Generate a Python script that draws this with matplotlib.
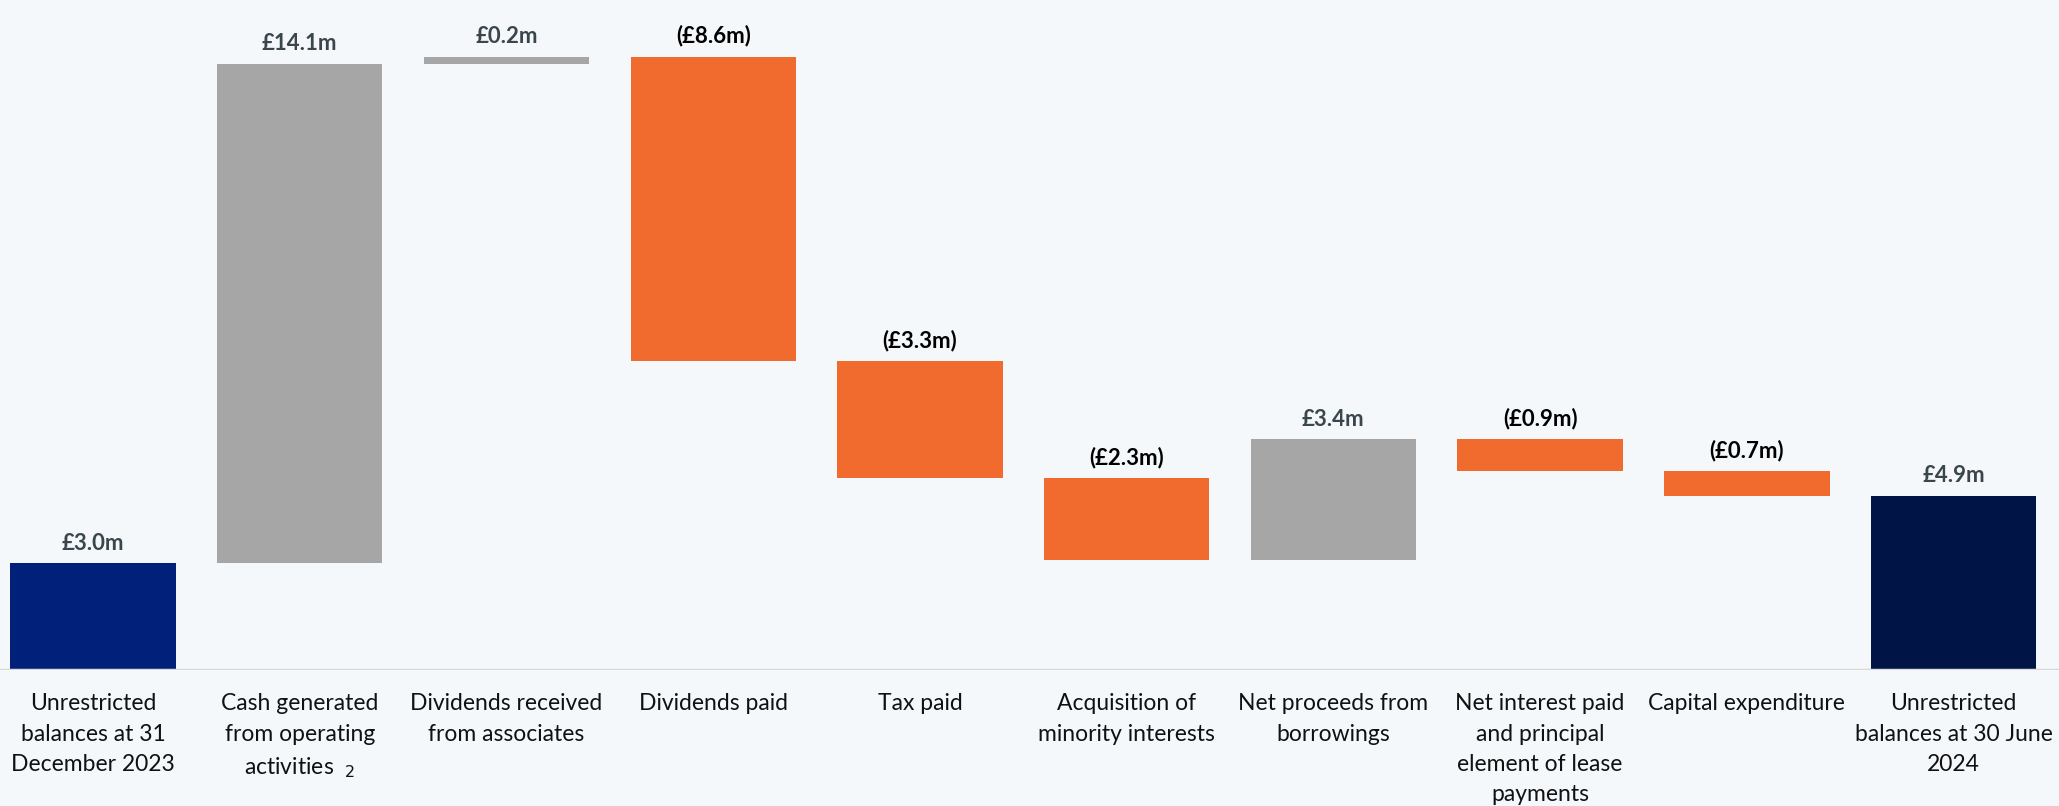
import matplotlib.pyplot as plt
import numpy as np

plt.rcParams['font.family'] = ['Lato', 'DejaVu Sans']

# data (GBP m)
categories = ['Unrestricted\nbalances at 31\nDecember 2023',
              'Cash generated\nfrom operating\nactivities  $_{2}$',
              'Dividends received\nfrom associates',
              'Dividends paid',
              'Tax paid',
              'Acquisition of\nminority interests',
              'Net proceeds from\nborrowings',
              'Net interest paid\nand principal\nelement of lease\npayments',
              'Capital expenditure',
              'Unrestricted\nbalances at 30 June\n2024']
changes = [3.0, 14.1, 0.2, -8.6, -3.3, -2.3, 3.4, -0.9, -0.7]
closing = 4.9
labels = ['£3.0m', '£14.1m', '£0.2m', '(£8.6m)', '(£3.3m)', '(£2.3m)',
          '£3.4m', '(£0.9m)', '(£0.7m)', '£4.9m']

bg = '#F4F8FB'
fig = plt.figure(figsize=(20.59, 8.06), dpi=100, facecolor=bg)
ax = fig.add_axes([0, 0.169, 1, 0.831])
ax.set_facecolor(bg)

x = np.arange(len(categories))
bottoms, heights, colors = [], [], []
run = 0
for i, c in enumerate(changes):
    if i == 0:
        bottoms.append(0); heights.append(c); colors.append('#00207A')
    else:
        lo = min(run, run + c)
        bottoms.append(lo); heights.append(abs(c))
        colors.append('#A6A6A6' if c > 0 else '#F26B2E')
    run += c
bottoms.append(0); heights.append(closing); colors.append('#001446')

ax.bar(x, heights, bottom=bottoms, width=0.8, color=colors)

for i in range(len(x)):
    top = bottoms[i] + heights[i]
    col = '#000000' if labels[i].startswith('(') else '#3A464B'
    ax.text(x[i], top + 0.28, labels[i], ha='center', va='bottom',
            fontsize=16, fontweight='bold', color=col)

ax.axhline(0, color='#D9D9D9', lw=2.5)
ax.set_xlim(-0.45, 9.51)
ax.set_ylim(0, 18.9)
ax.set_xticks(x)
ax.set_xticklabels(categories, fontsize=16.5, linespacing=1.55, color='#111111')
ax.tick_params(axis='x', length=0, pad=17)
ax.set_yticks([])
for s in ax.spines.values():
    s.set_visible(False)

fig.savefig('out.png', facecolor=bg)
